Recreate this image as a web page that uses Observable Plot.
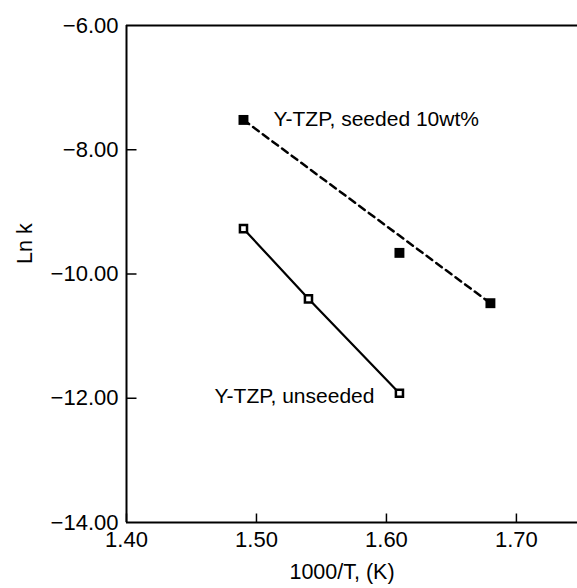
<!DOCTYPE html>
<html>
<head>
<meta charset="utf-8">
<script src="https://cdn.jsdelivr.net/npm/d3@7"></script>
<script src="https://cdn.jsdelivr.net/npm/@observablehq/plot@0.6"></script>
<style>
  html, body { margin: 0; padding: 0; background: #fff; }
</style>
</head>
<body>
<div id="chart"></div>
<script>
const seededX = [1.49, 1.61, 1.68];
const seededY = [-7.52, -9.66, -10.47];
const unseededX = [1.49, 1.54, 1.61];
const unseededY = [-9.27, -10.40, -11.92];
const xTicks = [1.40, 1.50, 1.60, 1.70];
const yTicks = [-6, -8, -10, -12, -14];
const seededLabel = "Y-TZP, seeded 10wt%";
const unseededLabel = "Y-TZP, unseeded";
const xLabel = "1000/T, (K)";
const yLabel = "Ln k";

const seeded = seededX.map((x, i) => ({x, y: seededY[i]}));
const unseeded = unseededX.map((x, i) => ({x, y: unseededY[i]}));
const seededFit = [seeded[0], seeded[seeded.length - 1]];
const fmt = d3.format(".2f");

// inward tick glyphs
const tickRight = {draw(ctx) { ctx.moveTo(0, 0); ctx.lineTo(10, 0); }};
const tickUp = {draw(ctx) { ctx.moveTo(0, 0); ctx.lineTo(0, -9); }};

const chart = Plot.plot({
  width: 577,
  height: 588,
  marginLeft: 126,
  marginRight: 0,
  marginTop: 25,
  marginBottom: 66,
  style: {fontFamily: "'Liberation Sans', Arial, sans-serif", fontSize: "22px", color: "#000", background: "#fff"},
  x: {domain: [1.40, 1.747]},
  y: {domain: [-14, -6]},
  marks: [
    Plot.ruleX([1.40], {stroke: "#000", strokeWidth: 2}),
    Plot.ruleY([-6, -14], {stroke: "#000", strokeWidth: 2}),
    Plot.axisX(xTicks, {tickSize: 0, tickPadding: 9, tickFormat: fmt, label: null}),
    Plot.axisY(yTicks, {tickSize: 0, tickPadding: 8, tickFormat: fmt, label: null}),
    Plot.dot(xTicks, {x: d => d, y: () => -14, symbol: tickUp, stroke: "#000", strokeWidth: 1.5}),
    Plot.dot(yTicks.slice(1, -1), {x: () => 1.40, y: d => d, symbol: tickRight, stroke: "#000", strokeWidth: 1.5}),
    Plot.line(seededFit, {x: "x", y: "y", stroke: "#000", strokeWidth: 2.5, strokeDasharray: "7,5"}),
    Plot.line(unseeded, {x: "x", y: "y", stroke: "#000", strokeWidth: 2.2}),
    Plot.dot(seeded, {x: "x", y: "y", symbol: "square", r: 5.6, fill: "#000", stroke: "none"}),
    Plot.dot(unseeded, {x: "x", y: "y", symbol: "square", r: 4, fill: "#fff", stroke: "#000", strokeWidth: 2.5}),
    Plot.text([seeded[0]], {x: "x", y: "y", text: () => seededLabel, textAnchor: "start", dx: 30, dy: -1, fontSize: 21}),
    Plot.text([unseeded[unseeded.length - 1]], {x: "x", y: "y", text: () => unseededLabel, textAnchor: "end", dx: -25, dy: 3, fontSize: 21}),
    Plot.text([xLabel], {frameAnchor: "bottom", text: d => d, dx: -10, dy: 56, fontSize: 21.5}),
    Plot.text([yLabel], {frameAnchor: "left", text: d => d, rotate: -90, dx: -101, dy: -10, fontSize: 21.5})
  ]
});
document.getElementById("chart").appendChild(chart);
</script>
</body>
</html>
